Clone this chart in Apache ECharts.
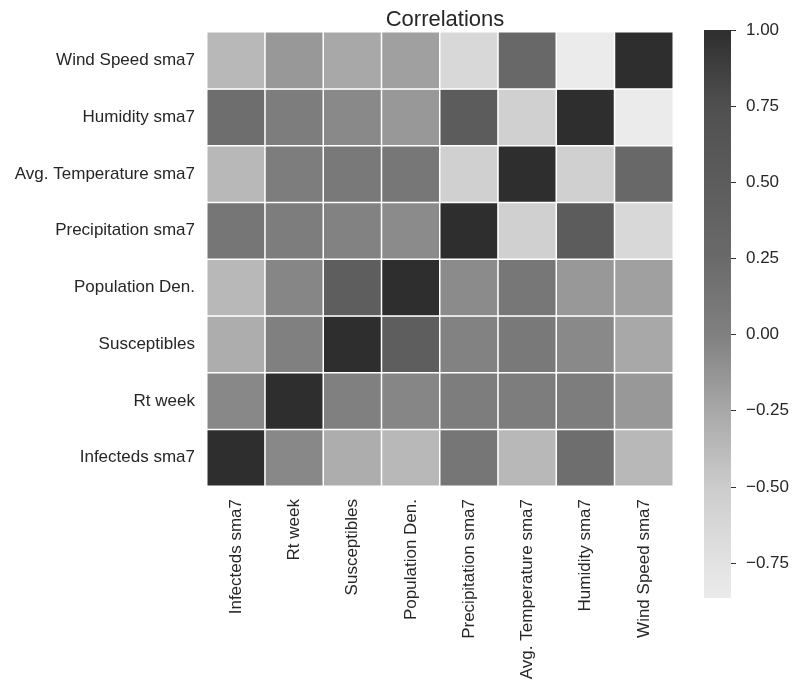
<!DOCTYPE html>
<html>
<head>
<meta charset="utf-8">
<script src="https://cdn.jsdelivr.net/npm/echarts@6/dist/echarts.min.js"></script>
<style>
  html, body { margin: 0; padding: 0; background: #ffffff; }
  #chart { width: 792px; height: 684px; }
</style>
</head>
<body>
<div id="chart"></div>
<script>
// Variable names, in column order (bottom-to-top on the y axis)
const variables = [
  'Infecteds sma7', 'Rt week', 'Susceptibles', 'Population Den.',
  'Precipitation sma7', 'Avg. Temperature sma7', 'Humidity sma7', 'Wind Speed sma7'
];

// Pearson correlations, one row per variable (same column order as above)
const infectedsSma7     = [ 1.00, -0.05, -0.28, -0.36,  0.11, -0.36,  0.21, -0.36];
const rtWeek            = [-0.05,  1.00,  0.00, -0.04,  0.03,  0.03,  0.04, -0.15];
const susceptibles      = [-0.28,  0.00,  1.00,  0.46, -0.01,  0.08, -0.06, -0.25];
const populationDen     = [-0.36, -0.04,  0.46,  1.00, -0.07,  0.10, -0.15, -0.20];
const precipitationSma7 = [ 0.11,  0.03, -0.01, -0.07,  1.00, -0.55,  0.50, -0.64];
const avgTemperatureSma7= [-0.36,  0.03,  0.08,  0.10, -0.55,  1.00, -0.55,  0.28];
const humiditySma7      = [ 0.21,  0.04, -0.06, -0.15,  0.50, -0.55,  1.00, -0.865];
const windSpeedSma7     = [-0.36, -0.15, -0.25, -0.20, -0.64,  0.28, -0.865, 1.00];

const rows = [infectedsSma7, rtWeek, susceptibles, populationDen,
              precipitationSma7, avgTemperatureSma7, humiditySma7, windSpeedSma7];

// Colour bar tick labels
const colorbarTicks = [-0.75, -0.5, -0.25, 0, 0.25, 0.5, 0.75, 1.0];

// Colour scale range
const vMin = -0.865;
const vMax = 1.0;

// Grey ramp: anchor values and their grey level (0-255)
const rampValues = [-0.865, -0.75, -0.5, -0.25, 0.0, 0.25, 0.5, 0.75, 1.0];
const rampGreys  = [235, 226, 204, 168, 128, 106, 92, 80, 46];

function greyAt(v) {
  if (v <= rampValues[0]) return rampGreys[0];
  for (let i = 1; i < rampValues.length; i++) {
    if (v <= rampValues[i]) {
      const t = (v - rampValues[i - 1]) / (rampValues[i] - rampValues[i - 1]);
      return rampGreys[i - 1] + t * (rampGreys[i] - rampGreys[i - 1]);
    }
  }
  return rampGreys[rampGreys.length - 1];
}
function greyHex(g) {
  const h = Math.round(g).toString(16).padStart(2, '0');
  return '#' + h + h + h;
}

// Evenly spaced colour stops from vMin to vMax for the visual map
const NSTOPS = 48;
const rampColors = [];
for (let i = 0; i < NSTOPS; i++) {
  const v = vMin + (vMax - vMin) * i / (NSTOPS - 1);
  rampColors.push(greyHex(greyAt(v)));
}
// Gradient stops for the colour bar (offset 0 = top = vMax)
const gradientStops = rampColors.map((c, i) => ({ offset: 1 - i / (NSTOPS - 1), color: c })).reverse();

// Heatmap cells: [x index, y index, value]
const cells = [];
rows.forEach((row, yi) => {
  row.forEach((val, xi) => cells.push([xi, yi, val]));
});

const textColor = '#262626';
const fontFamily = '"Liberation Sans", Arial, sans-serif';

const chart = echarts.init(document.getElementById('chart'), null, { renderer: 'canvas' });

chart.setOption({
  backgroundColor: '#ffffff',
  animation: false,
  title: {
    text: 'Correlations',
    left: 440,
    textAlign: 'center',
    top: 4,
    textStyle: { color: textColor, fontSize: 22, fontWeight: 'normal', fontFamily: fontFamily }
  },
  grid: [
    { left: 207, top: 32, width: 466, height: 454 },
    { left: 704, top: 30, width: 29, height: 568 }
  ],
  xAxis: [
    {
      type: 'category', gridIndex: 0, data: variables,
      axisLine: { show: false }, axisTick: { show: false }, splitLine: { show: false },
      axisLabel: { rotate: 90, margin: 13, color: textColor, fontSize: 17, fontFamily: fontFamily }
    },
    {
      type: 'category', gridIndex: 1, data: ['bar'], show: false
    }
  ],
  yAxis: [
    {
      type: 'category', gridIndex: 0, data: variables,
      axisLine: { show: false }, axisTick: { show: false }, splitLine: { show: false },
      axisLabel: { margin: 12, color: textColor, fontSize: 17, fontFamily: fontFamily }
    },
    {
      type: 'value', gridIndex: 1, position: 'right', min: vMin, max: vMax,
      axisLine: { show: false },
      splitLine: { show: false },
      axisTick: { show: true, length: 5, customValues: colorbarTicks,
                  lineStyle: { color: '#333333', width: 1 } },
      axisLabel: {
        customValues: colorbarTicks, margin: 15, color: textColor, fontSize: 17, fontFamily: fontFamily,
        formatter: v => (v < 0 ? '\u2212' + Math.abs(v).toFixed(2) : v.toFixed(2))
      }
    }
  ],
  visualMap: {
    show: false,
    type: 'continuous',
    seriesIndex: 0,
    dimension: 2,
    min: vMin,
    max: vMax,
    inRange: { color: rampColors }
  },
  series: [
    {
      type: 'heatmap',
      xAxisIndex: 0, yAxisIndex: 0,
      data: cells,
      itemStyle: { borderColor: '#ffffff', borderWidth: 1.5 },
      emphasis: { disabled: true }
    },
    {
      // colour bar drawn as one gradient rectangle on the value scale
      type: 'custom',
      xAxisIndex: 1, yAxisIndex: 1,
      data: [[0, vMax, vMin]],
      renderItem: function (params, api) {
        const cs = params.coordSys;
        const top = api.coord([0, api.value(1)])[1];
        const bottom = api.coord([0, api.value(2)])[1];
        return {
          type: 'rect',
          shape: { x: cs.x, y: top, width: cs.width, height: bottom - top },
          style: { fill: new echarts.graphic.LinearGradient(0, 0, 0, 1, gradientStops) }
        };
      },
      silent: true
    }
  ]
});
</script>
</body>
</html>
